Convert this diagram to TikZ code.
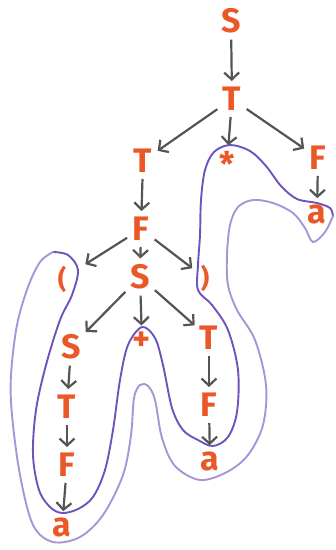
\documentclass[tikz,border=0pt]{standalone}
\usepackage{fontspec}
\setmainfont{Fira Sans}
\usetikzlibrary{arrows.meta}
\definecolor{chalk}{RGB}{234,88,40}
\definecolor{pencil}{RGB}{82,86,82}
\definecolor{loopin}{RGB}{112,82,190}
\definecolor{loopout}{RGB}{168,148,214}

\begin{document}
\begin{tikzpicture}[x=1pt,y=-1pt,
  sym/.style={text=chalk,inner sep=2pt,font=\fontsize{34}{34}\selectfont\bfseries},
  arr/.style={pencil,line width=2.2pt,shorten <=4pt,shorten >=4pt,
    -{Straight Barb[length=7pt,width=15pt]}},
  band/.style={line width=1.9pt,line join=round,line cap=round}]
  \useasboundingbox (0,0) rectangle (336,550);
  % loop round the yield, inner side
  \draw[band,loopin] plot[smooth,tension=0.55] coordinates {
    (53,252) (68,255) (78,270) (72,295) (60,320) (46,365) (36,410) (33,455) (39,490)
    (50,507) (62,513) (78,509) (93,497) (105,470) (113,430) (120,380) (128,345)
    (142,327) (155,338) (163,365) (172,408) (183,430) (198,440) (213,446) (228,437)
    (237,412) (238,370) (228,330) (212,305) (198,290) (198,265) (200,235) (201,200)
    (205,170) (214,152) (230,145) (250,151) (266,166) (281,186) (297,199) (317,203)
    (330,208) (333,216)};
  % loop round the yield, outer side
  \draw[band,loopout] plot[smooth,tension=0.55] coordinates {
    (333,216) (325,232) (313,242) (305,228) (293,213) (273,203) (253,200) (238,207)
    (230,225) (227,255) (228,285) (237,310) (255,340) (266,385) (263,425) (248,455)
    (227,472) (200,480) (175,466) (162,438) (155,400) (148,386) (140,385) (134,398)
    (131,435) (123,475) (103,515) (80,537) (53,542) (33,525) (20,475) (12,415)
    (11,375) (17,325) (28,287) (40,262) (53,252)};
  % S
  \node[sym] (S0) at (231,21) {S};
  % T
  \node[sym] (T0) at (232,99) {T};
  % T * F
  \node[sym] (T1) at (143,161) {T};
  \node[sym] (star) at (227,164) {*};
  \node[sym] (F1) at (318,158) {F};
  \node[sym] (a1) at (317,214) {a};
  % F
  \node[sym] (F2) at (141,229) {F};
  % ( S )
  \node[sym,font=\fontsize{26}{26}\selectfont\bfseries] (lpar) at (62,279) {(};
  \node[sym] (S1) at (140,277) {S};
  \node[sym,font=\fontsize{26}{26}\selectfont\bfseries] (rpar) at (205,278) {)};
  % S + T
  \node[sym] (S2) at (71,347) {S};
  \node[sym] (plus) at (142,341) {+};
  \node[sym] (T2) at (209,338) {T};
  % left column
  \node[sym] (T3) at (67,407) {T};
  \node[sym] (F3) at (67,465) {F};
  \node[sym] (a3) at (62,527) {a};
  % right column
  \node[sym] (F4) at (209,405) {F};
  \node[sym] (a4) at (210,461) {a};
  % arrows
  \draw[arr] (S0) -- (T0);
  \draw[arr] (T0) -- (T1);
  \draw[arr] (T0) -- (star);
  \draw[arr] (T0) -- (F1);
  \draw[arr] (F1) -- (a1);
  \draw[arr] (T1) -- (F2);
  \draw[arr,shorten >=20pt] (F2) -- (lpar);
  \draw[arr] (F2) -- (S1);
  \draw[arr,shorten >=8pt] (F2) -- (rpar);
  \draw[arr] (S1) -- (S2);
  \draw[arr] (S1) -- (plus);
  \draw[arr] (S1) -- (T2);
  \draw[arr] (S2) -- (T3);
  \draw[arr] (T3) -- (F3);
  \draw[arr] (F3) -- (a3);
  \draw[arr] (T2) -- (F4);
  \draw[arr] (F4) -- (a4);
\end{tikzpicture}
\end{document}
